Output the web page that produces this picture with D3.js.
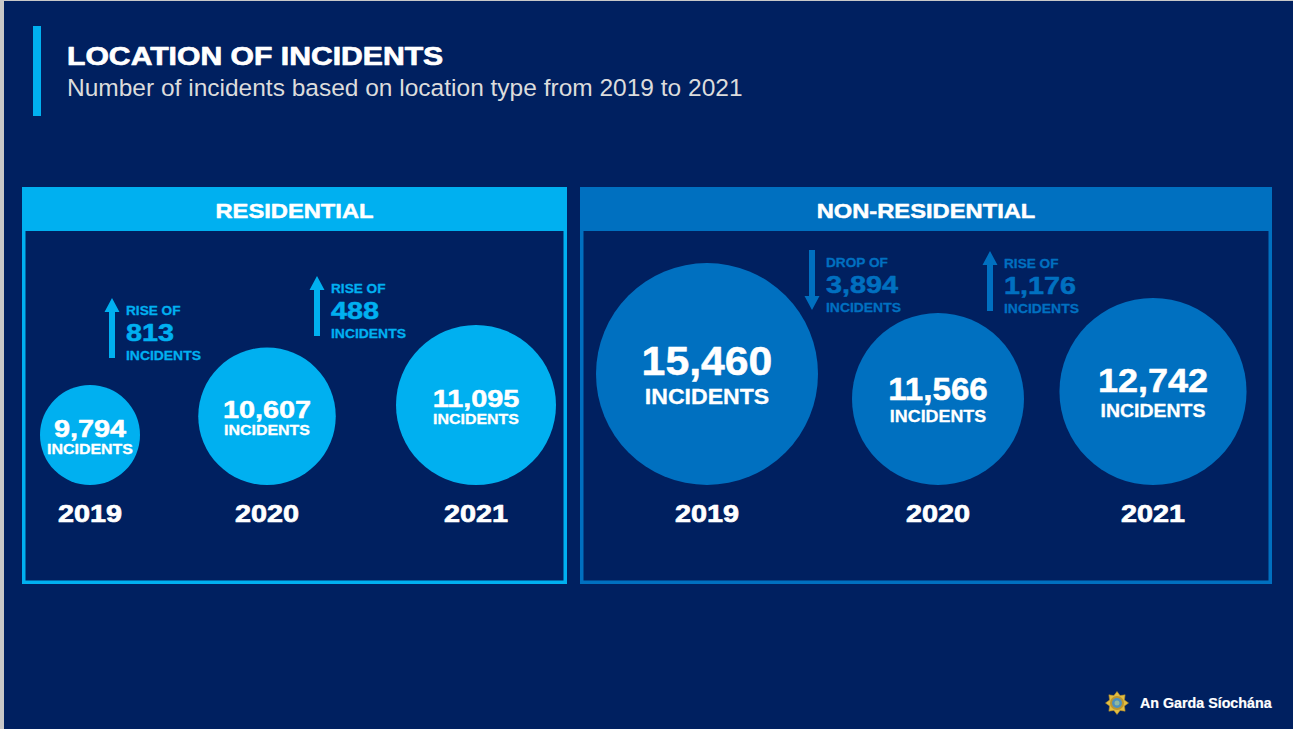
<!DOCTYPE html>
<html>
<head>
<meta charset="utf-8">
<script src="https://cdn.jsdelivr.net/npm/d3@7/dist/d3.min.js"></script>
<style>
  html, body { margin: 0; padding: 0; background: #002060; }
  svg { display: block; }
  text { font-family: "Liberation Sans", Arial, sans-serif; }
</style>
</head>
<body>
<svg id="chart" width="1293" height="729"></svg>
<script>
// ---- data ----
const years = ["2019", "2020", "2021"];
const residential = [9794, 10607, 11095];
const nonResidential = [15460, 11566, 12742];
const panelTitles = ["RESIDENTIAL", "NON-RESIDENTIAL"];
const chartTitle = "LOCATION OF INCIDENTS";
const chartSubtitle = "Number of incidents based on location type from 2019 to 2021";
const unitLabel = "INCIDENTS";
const brandName = "An Garda Síochána";

// ---- palette ----
const NAVY = "#002060";
const LIGHT = "#00B0F0";
const MID = "#0070C0";

const fmt = d3.format(",");
const svg = d3.select("#chart");
const W = 1293, H = 729;

svg.append("rect").attr("width", W).attr("height", H).attr("fill", NAVY);
// thin frame edge on the left / top
svg.append("rect").attr("x", 0).attr("y", 0).attr("width", 4).attr("height", H).attr("fill", "#c8c8c8");
svg.append("rect").attr("x", 0).attr("y", 0).attr("width", W).attr("height", 1).attr("fill", "#c8c8c8");

// text helper: horizontal stretch + optional stroke to mimic a heavier face
function label(g, o) {
  const t = g.append("text")
    .attr("transform", `translate(${o.x},${o.y}) scale(${o.sx || 1},1)`)
    .attr("text-anchor", o.anchor || "start")
    .attr("font-size", o.size)
    .attr("font-weight", o.weight || "bold")
    .attr("fill", o.fill || "#fff")
    .text(o.text);
  if (o.stroke) {
    t.attr("stroke", o.fill || "#fff").attr("stroke-width", o.stroke).attr("stroke-linejoin", "round");
  }
  return t;
}

// ---- heading ----
svg.append("rect").attr("x", 33).attr("y", 26).attr("width", 8).attr("height", 90).attr("fill", LIGHT);
label(svg, { x: 67, y: 65, text: chartTitle, size: 26, sx: 1.16, stroke: 0.7 });
label(svg, { x: 67, y: 96, text: chartSubtitle, size: 24.5, weight: "normal", fill: "#dcdcdc" });

// ---- panels ----
const panels = [
  {
    title: panelTitles[0], values: residential, color: LIGHT,
    x0: 22, x1: 567, centers: [90, 267, 476], rRange: [50, 80],
    numSize: () => 24, numSx: 1.2, unitSize: () => 14.5, unitSx: 1.1,
    numDy: () => 2, unitDy: () => 19,
    arrows: [{ x: 112, top: 298 }, { x: 317, top: 276 }]
  },
  {
    title: panelTitles[1], values: nonResidential, color: MID,
    x0: 580, x1: 1272, centers: [707, 938, 1153], rRange: [86, 111],
    numSize: r => r * 0.36, numSx: 1.07, unitSize: r => r * 0.2, unitSx: 1.04,
    numDy: () => 1, unitDy: r => r * 0.27,
    arrows: [{ x: 812, top: 250 }, { x: 990, top: 251 }]
  }
];

const PANEL_TOP = 187, PANEL_BOTTOM = 584, HEADER_H = 44, BORDER = 3.5;
const CIRCLE_BASE = 485, YEAR_BASE = 522;

panels.forEach(p => {
  const g = svg.append("g");
  const w = p.x1 - p.x0;

  // frame and header band
  g.append("rect")
    .attr("x", p.x0 + BORDER / 2).attr("y", PANEL_TOP + BORDER / 2)
    .attr("width", w - BORDER).attr("height", PANEL_BOTTOM - PANEL_TOP - BORDER)
    .attr("fill", "none").attr("stroke", p.color).attr("stroke-width", BORDER);
  g.append("rect")
    .attr("x", p.x0).attr("y", PANEL_TOP).attr("width", w).attr("height", HEADER_H)
    .attr("fill", p.color);
  label(g, { x: (p.x0 + p.x1) / 2, y: PANEL_TOP + 31, text: p.title, size: 21, sx: 1.13, anchor: "middle", stroke: 0.5 });

  // scales
  const xPos = d3.scaleOrdinal().domain(years).range(p.centers);
  const rScale = d3.scaleLinear().domain(d3.extent(p.values)).range(p.rRange);

  const data = years.map((y, i) => ({ year: y, value: p.values[i] }));

  const node = g.selectAll("g.node").data(data).join("g").attr("class", "node");
  node.append("circle")
    .attr("cx", d => xPos(d.year))
    .attr("cy", d => CIRCLE_BASE - rScale(d.value))
    .attr("r", d => rScale(d.value))
    .attr("fill", p.color);

  node.each(function (d) {
    const n = d3.select(this);
    const r = rScale(d.value);
    const cx = xPos(d.year), cy = CIRCLE_BASE - r;
    label(n, { x: cx, y: cy + p.numDy(r), text: fmt(d.value), size: p.numSize(r), sx: p.numSx, anchor: "middle", stroke: 0.5 });
    label(n, { x: cx, y: cy + p.unitDy(r), text: unitLabel, size: p.unitSize(r), sx: p.unitSx, anchor: "middle", stroke: 0.3 });
    label(n, { x: cx, y: YEAR_BASE, text: d.year, size: 24, sx: 1.2, anchor: "middle", stroke: 0.7 });
  });

  // year-on-year change markers
  const changes = d3.pairs(p.values).map(([a, b], i) => ({ diff: b - a, ...p.arrows[i] }));
  changes.forEach(c => {
    const up = c.diff >= 0;
    const len = 60, shaft = 6, headW = 15, headL = 14;
    const top = c.top, bot = c.top + len;
    const path = d3.path();
    if (up) {
      path.moveTo(c.x, top);
      path.lineTo(c.x + headW / 2, top + headL);
      path.lineTo(c.x + shaft / 2, top + headL);
      path.lineTo(c.x + shaft / 2, bot);
      path.lineTo(c.x - shaft / 2, bot);
      path.lineTo(c.x - shaft / 2, top + headL);
      path.lineTo(c.x - headW / 2, top + headL);
    } else {
      path.moveTo(c.x, bot);
      path.lineTo(c.x + headW / 2, bot - headL);
      path.lineTo(c.x + shaft / 2, bot - headL);
      path.lineTo(c.x + shaft / 2, top);
      path.lineTo(c.x - shaft / 2, top);
      path.lineTo(c.x - shaft / 2, bot - headL);
      path.lineTo(c.x - headW / 2, bot - headL);
    }
    path.closePath();
    g.append("path").attr("d", path.toString()).attr("fill", p.color);

    const lx = c.x + 14;
    label(g, { x: lx, y: top + 16.5, text: up ? "RISE OF" : "DROP OF", size: 13, sx: 1.05, fill: p.color, stroke: 0.3 });
    label(g, { x: lx, y: top + 43, text: fmt(Math.abs(c.diff)), size: 24, sx: 1.2, fill: p.color, stroke: 0.5 });
    label(g, { x: lx, y: top + 62, text: unitLabel, size: 13, sx: 1.07, fill: p.color, stroke: 0.3 });
  });
});

// ---- brand mark ----
const logo = svg.append("g").attr("transform", "translate(1117,703)");
const starPts = d3.range(16).map(i => {
  const a = i * Math.PI / 8 - Math.PI / 2;
  const r = i % 2 === 0 ? 11.5 : 8;
  return [Math.cos(a) * r, Math.sin(a) * r];
});
logo.append("path").attr("d", d3.line()(starPts) + "Z").attr("fill", "#e2bd3f").attr("stroke", "#b08a2a").attr("stroke-width", 0.6);
logo.append("circle").attr("r", 7).attr("fill", "#b99531");
logo.append("circle").attr("r", 5).attr("fill", "#4b8fbf");
logo.append("circle").attr("r", 2.5).attr("fill", "#8fb8a0");
label(svg, { x: 1140, y: 708, text: brandName, size: 14, sx: 1.02, stroke: 0.2 });
</script>
</body>
</html>
